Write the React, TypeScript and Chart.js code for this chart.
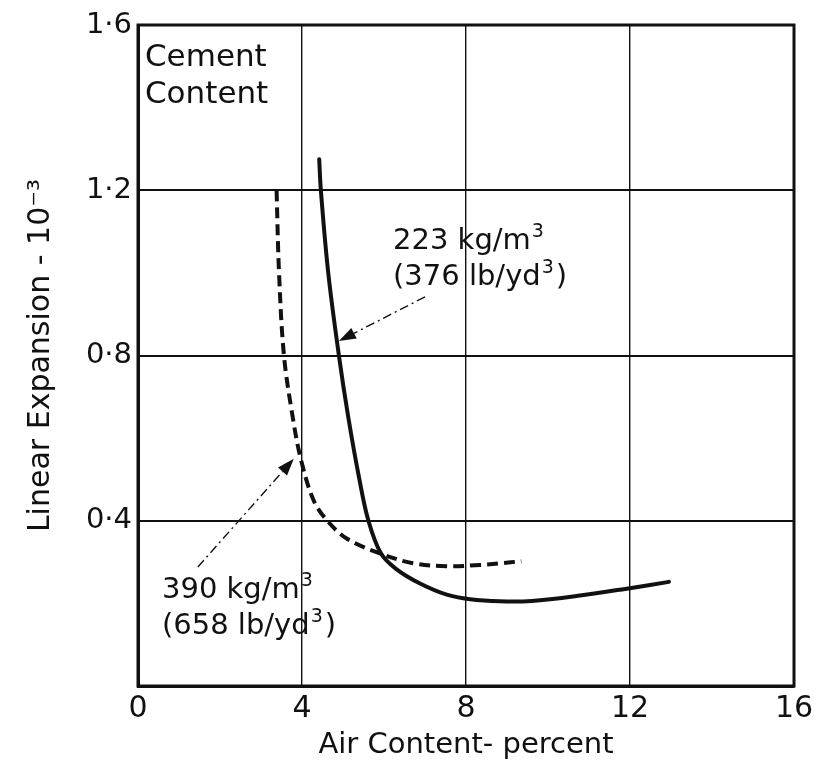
import React, { useEffect, useRef } from "react";
import { Chart, registerables } from "chart.js";

Chart.register(...registerables);

// ---- data ----
const xTicks = [0, 4, 8, 12, 16];
const xTickLabels = ["0", "4", "8", "12", "16"];
const yTicks = [0, 0.4, 0.8, 1.2, 1.6];
const yTickLabels = ["", "0·4", "0·8", "1·2", "1·6"];

// 223 kg/m3 (376 lb/yd3) – solid curve
const cem223Air = [4.42, 4.46, 4.64, 4.9, 5.13, 5.4, 5.62, 5.92, 6.3, 6.88, 7.53, 8.1, 8.83, 9.6, 10.78, 11.88, 12.95];
const cem223Exp = [1.275, 1.2, 1.0, 0.8, 0.65, 0.5, 0.4, 0.322, 0.283, 0.248, 0.221, 0.21, 0.205, 0.206, 0.219, 0.235, 0.252];

// 390 kg/m3 (658 lb/yd3) – dashed curve
const cem390Air = [3.38, 3.44, 3.56, 3.77, 3.97, 4.28, 4.6, 5.09, 5.9, 6.71, 7.53, 8.34, 8.83, 9.35];
const cem390Exp = [1.2, 1.0, 0.8, 0.653, 0.55, 0.45, 0.402, 0.357, 0.321, 0.297, 0.29, 0.293, 0.297, 0.302];

const xTitle = "Air Content- percent";
const yTitle = "Linear Expansion - 10⁻³";
const boxTitle = ["Cement", "Content"];
const label223 = [
  [{ t: "223 kg/m" }, { t: "3", sup: true }],
  [{ t: "(376 lb/yd" }, { t: "3", sup: true }, { t: ")" }],
];
const label390 = [
  [{ t: "390 kg/m" }, { t: "3", sup: true }],
  [{ t: "(658 lb/yd" }, { t: "3", sup: true }, { t: ")" }],
];

const INK = "#111111";
const FONT = "'DejaVu Sans', sans-serif";

type Part = { t: string; sup?: boolean };

function drawRich(ctx: CanvasRenderingContext2D, parts: Part[], x: number, y: number, size: number) {
  let cx = x;
  ctx.textBaseline = "alphabetic";
  ctx.textAlign = "left";
  for (const p of parts) {
    if (p.sup) {
      ctx.font = `${Math.round(size * 0.66)}px ${FONT}`;
      ctx.fillText(p.t, cx + 1, y - size * 0.42);
      cx += ctx.measureText(p.t).width + 3;
    } else {
      ctx.font = `${size}px ${FONT}`;
      ctx.fillText(p.t, cx, y);
      cx += ctx.measureText(p.t).width;
    }
  }
}

function drawArrow(ctx: CanvasRenderingContext2D, x0: number, y0: number, x1: number, y1: number) {
  const ang = Math.atan2(y1 - y0, x1 - x0);
  const headLen = 17;
  const headW = 6;
  const bx = x1 - headLen * Math.cos(ang);
  const by = y1 - headLen * Math.sin(ang);
  ctx.save();
  ctx.strokeStyle = INK;
  ctx.fillStyle = INK;
  ctx.lineWidth = 1.4;
  ctx.setLineDash([9, 4, 2, 4]);
  ctx.beginPath();
  ctx.moveTo(x0, y0);
  ctx.lineTo(bx, by);
  ctx.stroke();
  ctx.setLineDash([]);
  ctx.beginPath();
  ctx.moveTo(x1, y1);
  ctx.lineTo(bx + headW * Math.sin(ang), by - headW * Math.cos(ang));
  ctx.lineTo(bx - headW * Math.sin(ang), by + headW * Math.cos(ang));
  ctx.closePath();
  ctx.fill();
  ctx.restore();
}

const annotPlugin = {
  id: "annot",
  afterDatasetsDraw(chart: any) {
    const { ctx, chartArea: a, scales } = chart;
    const x = scales.x;
    const y = scales.y;
    ctx.save();
    // frame
    ctx.strokeStyle = INK;
    ctx.lineWidth = 3;
    ctx.strokeRect(a.left, a.top, a.right - a.left, a.bottom - a.top);

    ctx.fillStyle = INK;
    // Cement Content
    ctx.font = `31px ${FONT}`;
    ctx.textAlign = "left";
    ctx.textBaseline = "alphabetic";
    ctx.fillText(boxTitle[0], x.getPixelForValue(0.17), y.getPixelForValue(1.5));
    ctx.fillText(boxTitle[1], x.getPixelForValue(0.17), y.getPixelForValue(1.412));

    // 223 label
    drawRich(ctx, label223[0], x.getPixelForValue(6.22), y.getPixelForValue(1.058), 29);
    drawRich(ctx, label223[1], x.getPixelForValue(6.22), y.getPixelForValue(0.971), 29);
    drawArrow(ctx, x.getPixelForValue(7.0), y.getPixelForValue(0.942), x.getPixelForValue(4.9), y.getPixelForValue(0.835));

    // 390 label
    drawRich(ctx, label390[0], x.getPixelForValue(0.585), y.getPixelForValue(0.213), 29);
    drawRich(ctx, label390[1], x.getPixelForValue(0.585), y.getPixelForValue(0.126), 29);
    drawArrow(ctx, x.getPixelForValue(1.46), y.getPixelForValue(0.288), x.getPixelForValue(3.8), y.getPixelForValue(0.55));
    ctx.restore();
  },
};

export default function App() {
  const ref = useRef<HTMLCanvasElement | null>(null);

  useEffect(() => {
    if (!ref.current) return;
    const chart = new Chart(ref.current, {
      type: "line",
      data: {
        datasets: [
          {
            label: "223 kg/m3",
            data: cem223Air.map((v, i) => ({ x: v, y: cem223Exp[i] })),
            borderColor: INK,
            borderWidth: 4,
            pointRadius: 0,
            tension: 0.35,
            borderCapStyle: "round",
            borderJoinStyle: "round",
            fill: false,
          },
          {
            label: "390 kg/m3",
            data: cem390Air.map((v, i) => ({ x: v, y: cem390Exp[i] })),
            borderColor: INK,
            borderWidth: 4,
            borderDash: [11, 6],
            pointRadius: 0,
            tension: 0.35,
            fill: false,
          },
        ],
      },
      options: {
        responsive: false,
        animation: false,
        devicePixelRatio: 1,
        layout: { autoPadding: false, padding: { top: 25, right: 25, left: 0, bottom: 0 } },
        plugins: { legend: { display: false }, tooltip: { enabled: false } },
        scales: {
          x: {
            type: "linear",
            min: 0,
            max: 16,
            afterBuildTicks: (s: any) => {
              s.ticks = xTicks.map((v) => ({ value: v }));
            },
            afterFit: (s: any) => {
              s.height = 78;
            },
            ticks: {
              callback: (v: any) => xTickLabels[xTicks.indexOf(Number(v))] ?? "",
              font: { family: FONT, size: 30 },
              color: INK,
              padding: 5,
              maxRotation: 0,
              autoSkip: false,
            },
            grid: { color: INK, lineWidth: 1.4, drawTicks: false },
            border: { display: true, color: INK, width: 3 },
            title: {
              display: true,
              text: xTitle,
              font: { family: FONT, size: 29 },
              color: INK,
              padding: { top: 0, bottom: 1 },
            },
          },
          y: {
            type: "linear",
            min: 0,
            max: 1.6,
            afterBuildTicks: (s: any) => {
              s.ticks = yTicks.map((v) => ({ value: v }));
            },
            afterFit: (s: any) => {
              s.width = 138;
            },
            ticks: {
              callback: (v: any) => {
                const i = yTicks.findIndex((t) => Math.abs(t - Number(v)) < 1e-6);
                return i >= 0 ? yTickLabels[i] : "";
              },
              font: { family: FONT, size: 29 },
              color: INK,
              padding: 6,
              autoSkip: false,
            },
            grid: { color: INK, lineWidth: 2, drawTicks: false },
            border: { display: true, color: INK, width: 3 },
            title: {
              display: true,
              text: yTitle,
              font: { family: FONT, size: 30 },
              color: INK,
              padding: { top: 23, bottom: 0 },
            },
          },
        },
      },
      plugins: [annotPlugin],
    } as any);
    return () => chart.destroy();
  }, []);

  return (
    <div style={{ position: "absolute", left: 0, top: 0, width: 819, height: 764, background: "#fff" }}>
      <canvas ref={ref} width={819} height={764} style={{ display: "block" }} />
    </div>
  );
}
